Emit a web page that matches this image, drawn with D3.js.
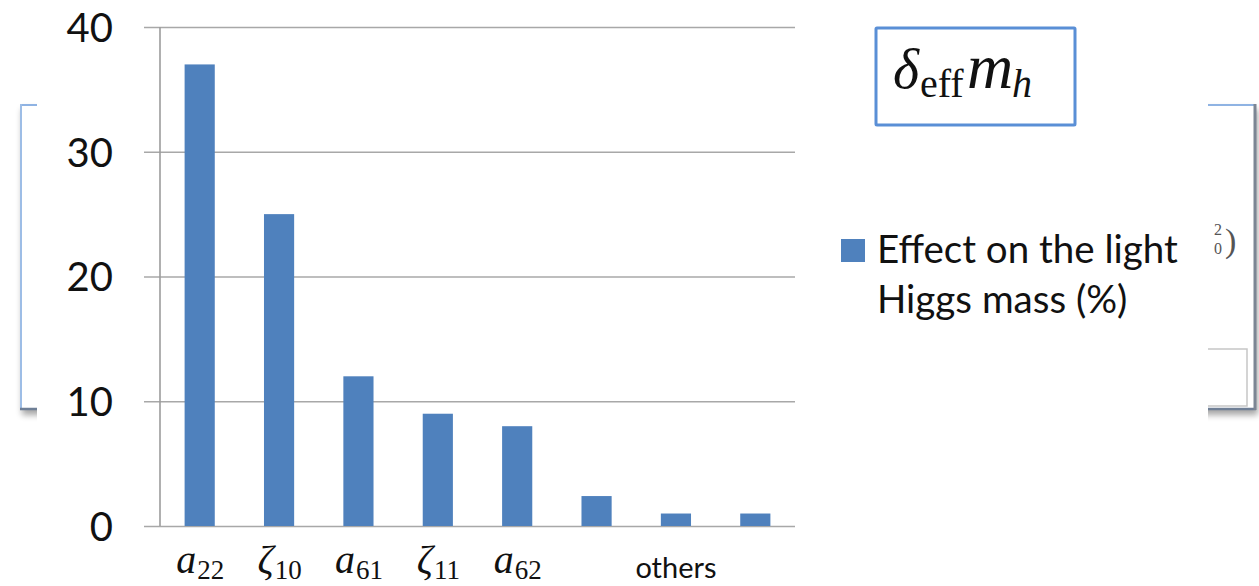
<!DOCTYPE html>
<html>
<head>
<meta charset="utf-8">
<script src="https://cdn.jsdelivr.net/npm/d3@7"></script>
<style>
  html, body { margin: 0; padding: 0; background: #fff; }
  svg { display: block; }
</style>
</head>
<body>
<svg id="chart" width="1259" height="586"></svg>
<script>
// Contributions to the light Higgs mass shift, by parameter
const categories = ["a22", "z10", "a61", "z11", "a62", "o1", "o2", "o3"];
const values = [37, 25, 12, 9, 8, 2.4, 1, 1];
// Tick label pieces: main symbol (italic math) + subscript; plain text where no subscript
const labelMain = ["a", "ζ", "a", "ζ", "a", "", "others", ""];
const labelSub = ["22", "10", "61", "11", "62", "", "", ""];
const yTicks = [0, 10, 20, 30, 40];
const seriesName = ["Effect on the light", "Higgs mass (%)"];

const svg = d3.select("#chart");
const W = 1259, H = 586;
const barColor = "#4f81bd";
const sans = "Lato, 'Open Sans', sans-serif";
const serif = "'Liberation Serif', 'DejaVu Serif', serif";

// ---- slide frame lying behind the chart panel ----
const defs = svg.append("defs");
const shadow = defs.append("filter").attr("id", "shadow")
  .attr("x", "-5%").attr("y", "-5%").attr("width", "110%").attr("height", "115%");
shadow.append("feGaussianBlur").attr("in", "SourceAlpha").attr("stdDeviation", 3);
shadow.append("feOffset").attr("dx", 2).attr("dy", 5).attr("result", "o");
shadow.append("feComponentTransfer").append("feFuncA").attr("type", "linear").attr("slope", 0.35);
const merge = shadow.append("feMerge");
merge.append("feMergeNode");
merge.append("feMergeNode").attr("in", "SourceGraphic");

const frame = svg.append("g");
frame.append("rect")
  .attr("x", 20).attr("y", 104).attr("width", 1236).attr("height", 306)
  .attr("fill", "#fff").attr("filter", "url(#shadow)");
frame.append("line").attr("x1", 20).attr("x2", 1254).attr("y1", 105).attr("y2", 105)
  .attr("stroke", "#8fb3e3").attr("stroke-width", 2);
frame.append("line").attr("x1", 21).attr("x2", 21).attr("y1", 104).attr("y2", 409)
  .attr("stroke", "#9dbde6").attr("stroke-width", 2);
frame.append("line").attr("x1", 20).attr("x2", 1256).attr("y1", 409).attr("y2", 409)
  .attr("stroke", "#6f7f96").attr("stroke-width", 2.5);
frame.append("line").attr("x1", 1255).attr("x2", 1255).attr("y1", 104).attr("y2", 410)
  .attr("stroke", "#7c8694").attr("stroke-width", 3);
// inner text box at the right
frame.append("rect")
  .attr("x", 1120).attr("y", 349).attr("width", 127).attr("height", 57)
  .attr("fill", "none").attr("stroke", "#c6c6c6").attr("stroke-width", 1.5);
// formula fragment peeking out at the right
const frag = frame.append("g").attr("fill", "#555").attr("font-family", serif);
frag.append("text").attr("x", 1214).attr("y", 235).attr("font-size", 16).text("2");
frag.append("text").attr("x", 1214).attr("y", 254).attr("font-size", 16).text("0");
frag.append("text").attr("x", 1225).attr("y", 252).attr("font-size", 34).text(")");

// ---- white chart panel ----
svg.append("rect").attr("x", 37).attr("y", 0).attr("width", 1171).attr("height", H)
  .attr("fill", "#fff");

// ---- scales ----
const plotLeft = 160, plotRight = 795, plotTop = 27, plotBottom = 526;
const x = d3.scaleBand().domain(categories).range([plotLeft, plotRight])
  .paddingInner(0.62).paddingOuter(0.31);
const y = d3.scaleLinear().domain([0, 40]).range([plotBottom, plotTop]);

// ---- gridlines + y tick labels ----
const gridExtent = plotRight - 144;
const yAxis = d3.axisLeft(y).tickValues(yTicks).tickSize(gridExtent).tickPadding(31)
  .tickFormat(d3.format("d"));
const gy = svg.append("g").attr("transform", `translate(${plotRight},0)`).call(yAxis);
gy.attr("font-family", sans);
gy.select(".domain").remove();
gy.selectAll(".tick line").attr("stroke", "#a8a8a8").attr("stroke-width", 1.6);
gy.selectAll(".tick text")
  .attr("font-family", sans).attr("font-size", 40).attr("fill", "#111")
  .attr("dy", "0.36em");

// vertical axis line
svg.append("line")
  .attr("x1", plotLeft).attr("x2", plotLeft)
  .attr("y1", y(40)).attr("y2", y(0))
  .attr("stroke", "#9c9c9c").attr("stroke-width", 1.6);

// ---- bars ----
svg.append("g").selectAll("rect").data(values).join("rect")
  .attr("x", (d, i) => x(categories[i]))
  .attr("width", x.bandwidth())
  .attr("y", d => y(d))
  .attr("height", d => y(0) - y(d))
  .attr("fill", barColor);

// ---- x labels ----
const gx = svg.append("g");
categories.forEach((c, i) => {
  const cx = x(c) + x.bandwidth() / 2;
  if (labelSub[i]) {
    const t = gx.append("text").attr("y", 573).attr("font-family", serif).attr("fill", "#111");
    t.append("tspan").attr("font-style", "italic").attr("font-size", 40).text(labelMain[i]);
    t.append("tspan").attr("font-size", 27).attr("dy", 6).attr("dx", 1).text(labelSub[i]);
    const w = t.node().getComputedTextLength();
    t.attr("x", cx - w / 2);
  } else if (labelMain[i]) {
    const t = gx.append("text").attr("y", 578).attr("font-family", sans)
      .attr("font-size", 28).attr("fill", "#111").attr("text-anchor", "middle")
      .attr("x", cx).text(labelMain[i]);
    const w = t.node().getComputedTextLength();
    t.attr("font-size", 28 * 81 / w);
  }
});

// ---- legend ----
const lg = svg.append("g");
lg.append("rect").attr("x", 841).attr("y", 239).attr("width", 24).attr("height", 23)
  .attr("fill", barColor);
const lt = lg.append("text").attr("font-family", sans).attr("font-size", 34).attr("fill", "#111");
lt.append("tspan").attr("x", 877).attr("y", 263).text(seriesName[0]);
lt.append("tspan").attr("x", 877).attr("y", 313).text(seriesName[1]);
const lw = lt.select("tspan").node().getComputedTextLength();
lt.attr("font-size", 34 * 301 / lw);

// ---- title box: δ_eff m_h ----
const tb = svg.append("g");
tb.append("rect").attr("x", 876).attr("y", 28).attr("width", 199).attr("height", 97)
  .attr("fill", "#fff").attr("stroke", "#5a8fd6").attr("stroke-width", 3).attr("rx", 1);
const tt = tb.append("text").attr("font-family", serif).attr("fill", "#111");
tt.append("tspan").attr("x", 893).attr("y", 88).attr("font-style", "italic").attr("font-size", 56).text("δ");
tt.append("tspan").attr("x", 920).attr("y", 97).attr("font-size", 40).text("eff");
tt.append("tspan").attr("x", 967).attr("y", 88).attr("font-style", "italic").attr("font-size", 64).text("m");
tt.append("tspan").attr("x", 1012).attr("y", 97).attr("font-style", "italic").attr("font-size", 40).text("h");
</script>
</body>
</html>
